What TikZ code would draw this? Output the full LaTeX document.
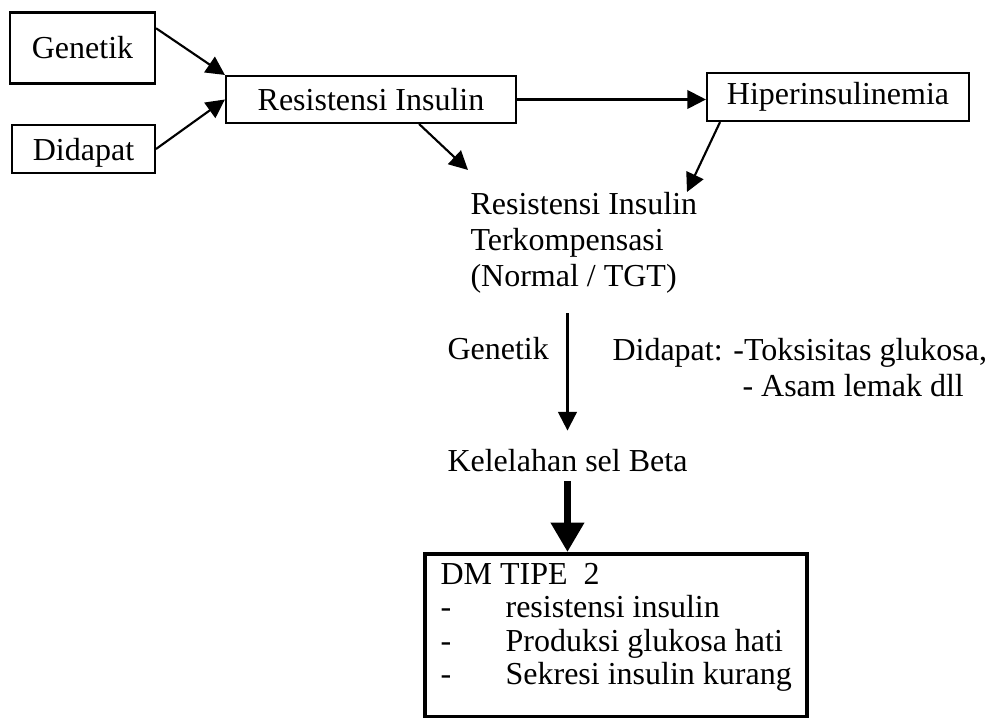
\documentclass[tikz,border=0pt]{standalone}
\usepackage{fontspec}
\setmainfont{Liberation Serif}
\usetikzlibrary{arrows.meta,positioning}

\begin{document}
\begin{tikzpicture}[x=0.375pt,y=-0.375pt]
		\tikzstyle{box}=[rectangle, draw=black, line width=0.8pt, inner sep=0pt, font=\fontsize{12}{13.5}\selectfont]
		\tikzstyle{txt}=[inner sep=0pt, anchor=base west, align=left, font=\fontsize{12}{13.5}\selectfont]
		\tikzstyle{connect}=[-{Triangle[length=7pt,width=7pt]}, line width=0.8pt]
		\tikzstyle{heavy}=[-{Triangle[length=11pt,width=12pt]}, line width=2.6pt]
		\useasboundingbox (0,0) rectangle (985,718);
		
		\node[box, minimum width=54.4pt, minimum height=26.6pt] (gen) at (82.5,48) {Genetik};
		\node[box, minimum width=53.6pt, minimum height=18pt, text depth=0pt] (did) at (83.5,149) {Didapat};
		\node[box, minimum width=108.75pt, minimum height=17.6pt] (ri) at (371,99.5) {Resistensi Insulin};
		\node[box, minimum width=98.25pt, minimum height=18pt] (hip) at (838,97) {Hiperinsulinemia};
		
		% base of a multi-line node sits on its last line
		\node[txt] (rit) at (470,287) {Resistensi Insulin\\Terkompensasi\\(Normal / TGT)};
		\coordinate (ritL) at (468,170);
		\coordinate (ritR) at (687,192);
		
		\node[txt] (gen2) at (447,360) {Genetik};
		\node[txt] (did2) at (612,397) {Didapat: -Toksisitas glukosa,\\\hspace*{48.75pt}- Asam lemak dll};
		
		\node[txt] (kel) at (447,472) {Kelelahan sel Beta};
		
		\node[box, anchor=north west, line width=1.6pt, minimum width=143.3pt, inner xsep=3.4pt, align=left, font=\fontsize{12}{12.6}\selectfont] (dm) at (423,552)
			{\rule{0pt}{11.25pt}DM TIPE\ \ 2\\
			\makebox[24.4pt][l]{-}resistensi insulin\\
			\makebox[24.4pt][l]{-}Produksi glukosa hati\\
			\makebox[24.4pt][l]{-}Sekresi insulin kurang\rule[-12pt]{0pt}{0pt}};
		
		\path (gen.15) edge [connect] (ri.north west);
		\path (did.east) edge [connect] (ri.west);
		\path (ri.east) edge [connect] (ri.east -| hip.west);
		\path (ri.333) edge [connect] (ritL);
		\path (hip.192.8) edge [connect] (ritR);
		\draw[connect, shorten <=7pt, shorten >=7pt] (rit.south -| kel.north) -- (kel.north);
		\draw[heavy, shorten <=3pt] (kel.south) -- (kel.south |- dm.north);

	\end{tikzpicture}
\end{document}
